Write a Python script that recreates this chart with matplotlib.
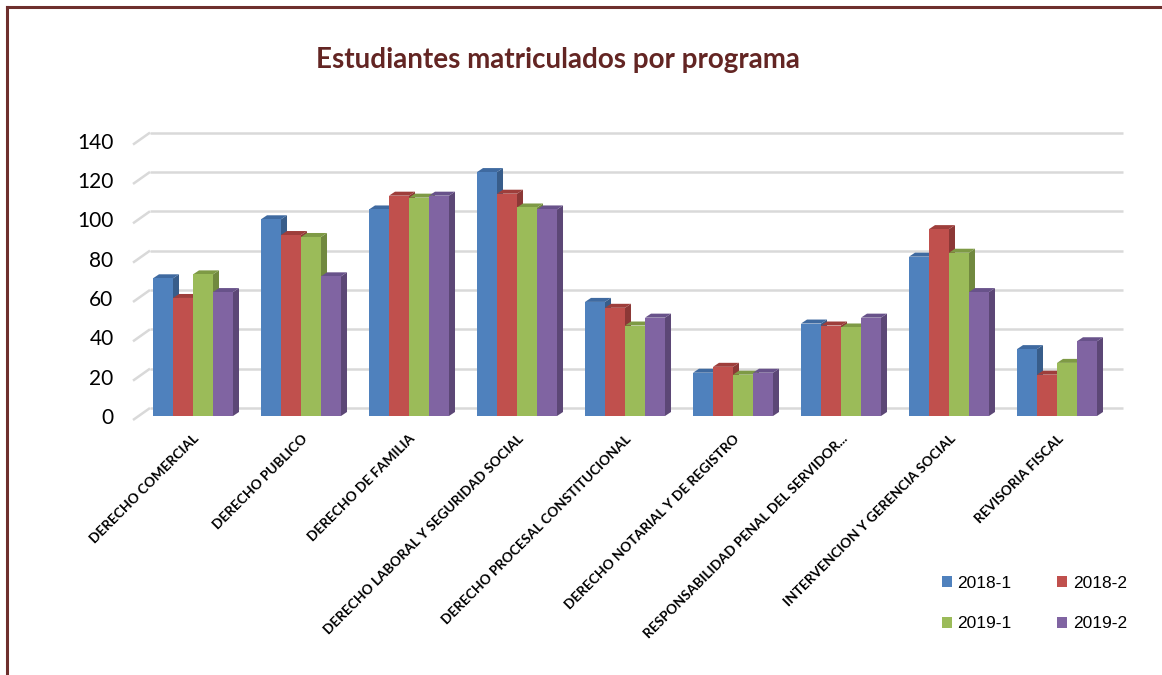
import matplotlib
matplotlib.use("Agg")
import matplotlib.pyplot as plt
from matplotlib.patches import Polygon, Patch
from matplotlib.lines import Line2D

categories = [
    "DERECHO COMERCIAL",
    "DERECHO PUBLICO",
    "DERECHO DE FAMILIA",
    "DERECHO LABORAL Y SEGURIDAD SOCIAL",
    "DERECHO PROCESAL CONSTITUCIONAL",
    "DERECHO NOTARIAL Y DE REGISTRO",
    "RESPONSABILIDAD PENAL DEL SERVIDOR...",
    "INTERVENCION Y GERENCIA SOCIAL",
    "REVISORIA FISCAL",
]
series_names = ["2018-1", "2018-2", "2019-1", "2019-2"]
s2018_1 = [70, 100, 105, 124, 58, 22, 47, 81, 34]
s2018_2 = [60, 92, 112, 113, 55, 25, 46, 95, 21]
s2019_1 = [72, 91, 111, 106, 46, 21, 45, 83, 27]
s2019_2 = [63, 71, 112, 105, 50, 22, 50, 63, 38]
yticks = [0, 20, 40, 60, 80, 100, 120, 140]

series = [s2018_1, s2018_2, s2019_1, s2019_2]
front_cols = ["#4F81BD", "#C0504D", "#9BBB59", "#8064A2"]
side_cols = ["#385D8A", "#8C3836", "#71893F", "#5C4776"]
top_cols = ["#3F6AA0", "#9E3E3B", "#7E9A45", "#68528A"]

W, H = 1162, 675
fig = plt.figure(figsize=(W / 100, H / 100), dpi=100)
fig.patch.set_facecolor("white")

# axes geometry in pixels (from top-left)
ax_l, ax_r = 133, 1106
ax_top, ax_bot = 140.6, 416
ax = fig.add_axes([ax_l / W, (H - ax_bot) / H, (ax_r - ax_l) / W, (ax_bot - ax_top) / H])
x0, x1 = -0.5556, 8.4537
ax.set_xlim(x0, x1)
ax.set_ylim(0, 140)
for s in ax.spines.values():
    s.set_visible(False)
ax.patch.set_alpha(0)

pxx = (ax_r - ax_l) / (x1 - x0)   # pixels per x unit
pxy = (ax_bot - ax_top) / 140.0   # pixels per y unit

def dx(p):
    return p / pxx

def dy(p):
    return p / pxy

# back wall gridlines with side-wall diagonal
for v in yticks:
    ax.plot([x0, x0 + dx(17)], [v - dy(4), v + dy(8)], color="#D9D9D9", lw=1.8,
            clip_on=False, zorder=0.5, solid_capstyle="butt")
    ax.plot([x0 + dx(17), x1 + dx(17)], [v + dy(8), v + dy(8)], color="#D9D9D9", lw=1.8,
            clip_on=False, zorder=0.5, solid_capstyle="butt")

bw = 20 / pxx
ddx, ddy = dx(6), dy(4)
n = len(series)
z = 2
for gi in range(len(categories)):
    for si in range(n):
        v = series[si][gi]
        xl = gi + (si - n / 2) * bw
        xr = xl + bw
        side = Polygon([(xr, 0), (xr + ddx, ddy), (xr + ddx, v + ddy), (xr, v)], closed=True,
                       facecolor=side_cols[si], edgecolor="none", clip_on=False, zorder=z)
        top = Polygon([(xl, v), (xr, v), (xr + ddx, v + ddy), (xl + ddx, v + ddy)], closed=True,
                      facecolor=top_cols[si], edgecolor="none", clip_on=False, zorder=z)
        ax.add_patch(side)
        ax.add_patch(top)
        ax.bar(xl, v, width=bw, align="edge", color=front_cols[si], edgecolor="none",
               zorder=z + 0.1, clip_on=False)
        z += 0.2

ax.set_yticks(yticks)
ax.set_yticklabels([str(t) for t in yticks], fontsize=15, family="Lato", color="black")
ax.tick_params(axis="y", length=0, pad=14)
ax.set_xticks(range(len(categories)))
ax.set_xticklabels(categories, rotation=45, ha="right", va="top", rotation_mode="anchor",
                   fontsize=9.8, fontweight="bold", family="Lato")
ax.tick_params(axis="x", length=0, pad=12)

fig.text(558 / W, 1 - 60 / H, "Estudiantes matriculados por programa", ha="center", va="center",
         fontsize=20, fontweight="bold", family="Lato", color="#632523")

handles = [Patch(facecolor=front_cols[i], edgecolor="none") for i in [0, 2, 1, 3]]
labels = [series_names[i] for i in [0, 2, 1, 3]]
fig.legend(handles, labels, loc="upper left", bbox_to_anchor=(942 / W, 1 - 576 / H),
           ncol=2, frameon=False, prop={"family": "Liberation Sans", "size": 12.5},
           handlelength=0.6, handleheight=0.6, handletextpad=0.3, labelspacing=1.45,
           columnspacing=2.6, borderpad=0, borderaxespad=0)

# frame (left and top edges visible)
fig.add_artist(Line2D([7 / W, 7 / W], [0, 1 - 7 / H], color="#6E2F2D", lw=2.2,
                      transform=fig.transFigure))
fig.add_artist(Line2D([7 / W, 1], [1 - 7 / H, 1 - 7 / H], color="#6E2F2D", lw=2.2,
                      transform=fig.transFigure))

fig.savefig("out.png", dpi=100, facecolor="white")
